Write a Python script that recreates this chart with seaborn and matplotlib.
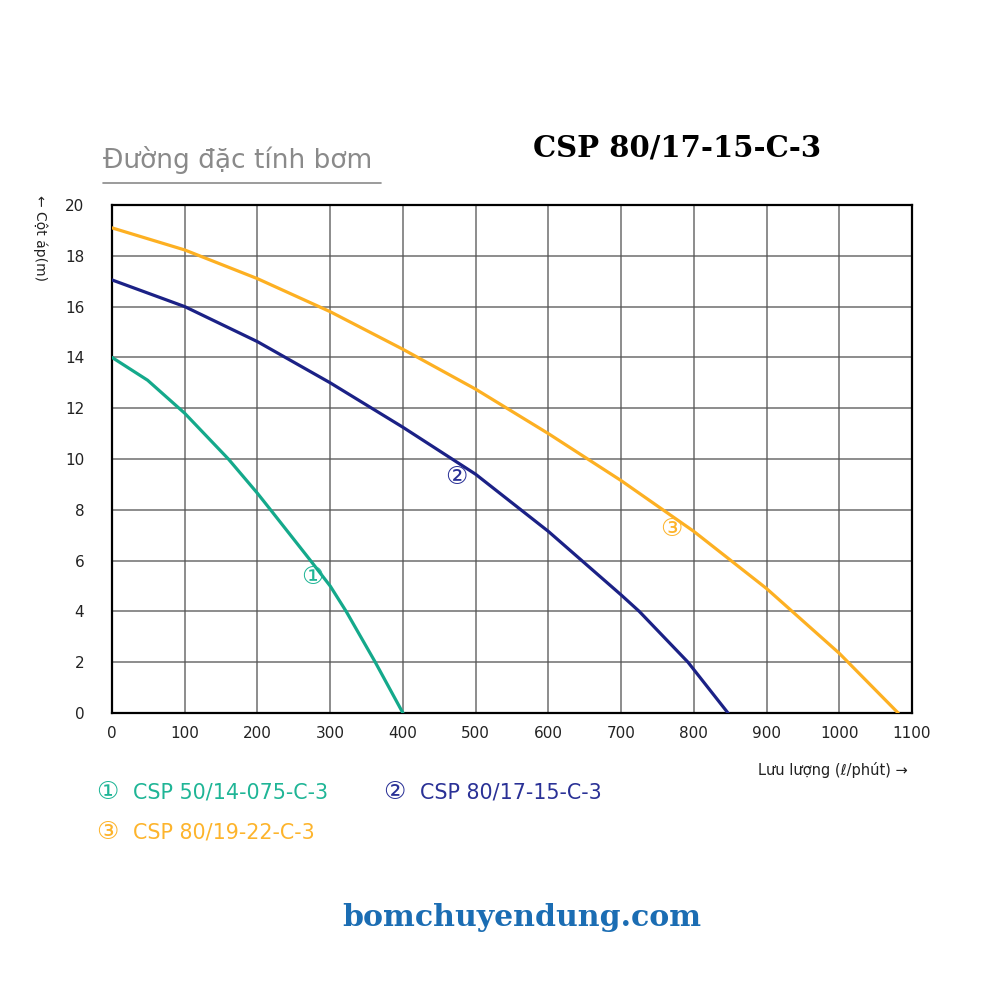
import pandas as pd
import seaborn as sns
import matplotlib.pyplot as plt

# pump curves (flow l/min, head m)
flow_1 = [0, 49, 100, 130, 160, 200, 218, 273, 300, 322, 362, 400]
head_1 = [14, 13.1, 11.8, 10.9, 10, 8.65, 8, 6, 5.0, 4, 2, 0]

flow_2 = [0, 100, 200, 300, 400, 500, 600, 700, 725, 792, 847]
head_2 = [17.05, 16, 14.62, 13, 11.25, 9.4, 7.15, 4.65, 4, 2, 0]

flow_3 = [0, 100, 200, 300, 400, 500, 600, 700, 800, 900, 1000, 1081]
head_3 = [19.1, 18.23, 17.1, 15.8, 14.32, 12.75, 11.0, 9.15, 7.15, 4.9, 2.35, 0]

names = ["CSP 50/14-075-C-3", "CSP 80/17-15-C-3", "CSP 80/19-22-C-3"]
marks = ["①", "②", "③"]
# where the circled numbers sit on each curve
mark_x = [275, 473, 769]
mark_y = [5.35, 9.3, 7.25]

x_ticks = list(range(0, 1101, 100))
y_ticks = list(range(0, 21, 2))

line_colors = ["#14a98b", "#1b2186", "#fdb022"]
text_colors = ["#1fb596", "#2a3196", "#fdb42c"]

df = pd.concat([
    pd.DataFrame({"flow": flow_1, "head": head_1, "pump": names[0]}),
    pd.DataFrame({"flow": flow_2, "head": head_2, "pump": names[1]}),
    pd.DataFrame({"flow": flow_3, "head": head_3, "pump": names[2]}),
])

sns.set_theme(style="white")
plt.rcParams["font.family"] = ["DejaVu Sans", "Noto Sans CJK JP"]

fig = plt.figure(figsize=(10, 10), dpi=100)
ax = fig.add_axes([0.112, 0.287, 0.8, 0.508])

sns.lineplot(data=df, x="flow", y="head", hue="pump", sort=False,
             palette=dict(zip(names, line_colors)), linewidth=2.3,
             legend=False, ax=ax, zorder=3)

ax.set_xlim(0, 1100)
ax.set_ylim(0, 20)
ax.set_xticks(x_ticks)
ax.set_yticks(y_ticks)
ax.grid(True, color="#555555", linewidth=1.1, alpha=0.85)
ax.tick_params(axis="both", length=0, labelsize=11, colors="#222222")
ax.tick_params(axis="y", pad=20)
ax.tick_params(axis="x", pad=9)
for s in ax.spines.values():
    s.set_color("black")
    s.set_linewidth(1.6)
ax.set_xlabel("")
ax.set_ylabel("")

for m, mx, my, c in zip(marks, mark_x, mark_y, text_colors):
    ax.text(mx, my, m, color=c, fontsize=18, ha="center", va="center",
            zorder=4)

# headings
fig.text(0.103, 0.84, "Đường đặc tính bơm", fontsize=19, color="#8a8a8a",
         ha="left", va="center")
fig.add_artist(plt.Line2D([0.103, 0.381], [0.817, 0.817], color="#8a8a8a",
                          linewidth=1.2))
fig.text(0.677, 0.852, "CSP 80/17-15-C-3", fontsize=21, fontweight="bold",
         family="DejaVu Serif", ha="center", va="center", color="black")

# axis captions
fig.text(0.04, 0.805, "← Cột áp(m)", rotation=-90, fontsize=10, ha="center",
         va="top", color="#222222")
fig.text(0.908, 0.23, "Lưu lượng (ℓ/phút) →", fontsize=10.5, ha="right",
         va="center", color="#222222")

# legend as text rows
leg_pos = [(0.096, 0.208), (0.383, 0.208), (0.096, 0.168)]
for (lx, ly), m, n, c in zip(leg_pos, marks, names, text_colors):
    fig.text(lx, ly, m, fontsize=18, color=c, ha="left", va="center")
    fig.text(lx + 0.037, ly, n, fontsize=14.9, color=c, ha="left",
             va="center")

fig.text(0.522, 0.083, "bomchuyendung.com", fontsize=21.6, fontweight="bold",
         family="DejaVu Serif", color="#1b6db3", ha="center", va="center")

plt.savefig("out.png", dpi=100)
